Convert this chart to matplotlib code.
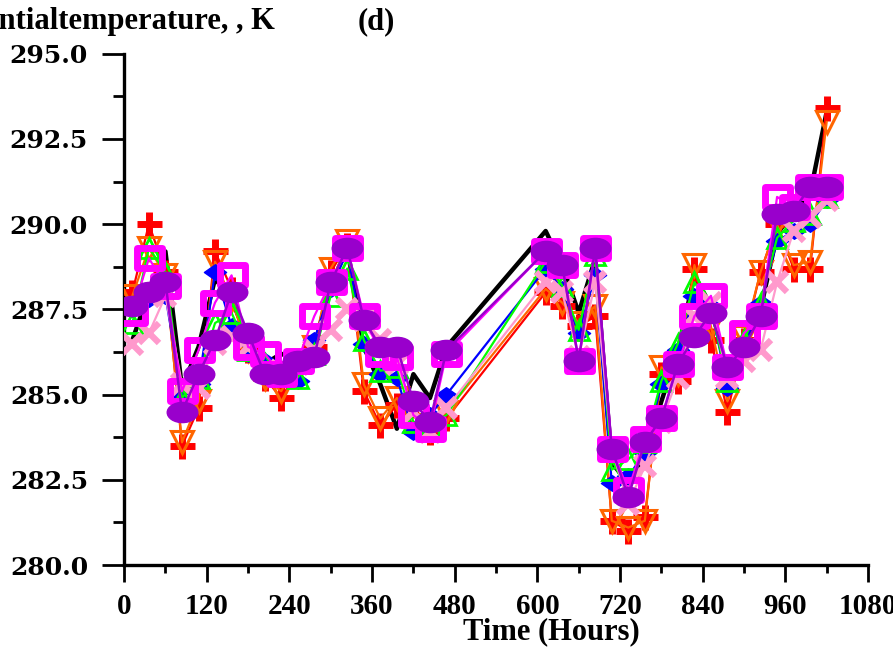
import numpy as np
import matplotlib
matplotlib.use("Agg")
import matplotlib.pyplot as plt
from matplotlib.path import Path
from matplotlib.ticker import MultipleLocator, FormatStrFormatter

# time axis (hours): two observed windows
t1 = [12, 36, 60, 84, 108, 132, 156, 180, 204, 228, 252, 276, 300, 324, 348, 372, 396, 420, 444, 468]
t2 = [612, 636, 660, 684, 708, 732, 756, 780, 804, 828, 852, 876, 900, 924, 948, 972, 996, 1020]
time = t1 + t2

black = [286.6, 288.0, 289.2, 285.2, 286.4, 288.4, 287.8, 286.6, 285.9, 286.2, 286.0, 286.4, 288.2, 289.3, 286.4, 285.3, 284.0, 285.6, 284.9, 286.4,
         289.8, 288.8, 287.4, 289.0, 283.0, 282.4, 283.2, 284.8, 286.3, 288.5, 287.6, 285.6, 286.5, 287.5, 289.7, 290.4, 290.9, 293.3]
red = [288.0, 290.0, 288.6, 283.5, 284.6, 289.2, 288.1, 286.3, 285.5, 284.9, 285.7, 286.4, 288.6, 289.4, 285.1, 284.1, 284.7, 284.7, 283.9, 284.3,
       288.0, 287.6, 287.0, 287.3, 281.3, 281.0, 281.4, 285.6, 285.4, 288.7, 286.6, 284.5, 286.6, 288.6, 290.0, 288.7, 288.7, 293.4]
orange = [287.9, 289.3, 288.5, 283.6, 284.8, 288.9, 287.8, 286.3, 285.5, 285.1, 285.9, 286.4, 288.7, 289.5, 285.3, 284.3, 284.9, 284.1, 284.0, 284.5,
          288.1, 287.7, 287.1, 287.6, 281.3, 281.1, 281.3, 285.8, 285.6, 288.8, 287.0, 284.8, 286.7, 288.6, 290.0, 288.8, 288.9, 293.0]
blue = [287.5, 287.8, 287.9, 285.0, 285.3, 288.6, 287.0, 286.2, 286.0, 285.5, 285.4, 286.6, 288.1, 289.2, 286.5, 285.6, 285.5, 283.9, 284.4, 285.0,
        288.7, 288.1, 286.8, 288.5, 282.4, 282.6, 283.3, 285.3, 286.3, 287.9, 287.6, 285.2, 286.4, 287.7, 289.5, 289.8, 290.0, 290.7]
green = [287.1, 289.3, 288.6, 284.9, 285.5, 287.1, 287.4, 286.3, 285.9, 285.6, 285.5, 286.2, 287.9, 288.7, 286.6, 285.7, 285.8, 284.2, 284.1, 284.4,
         288.9, 288.2, 286.9, 289.1, 282.8, 283.1, 283.6, 285.4, 286.5, 288.3, 287.5, 285.4, 286.6, 287.7, 289.6, 290.1, 290.3, 290.8]
pink = [286.5, 286.8, 287.9, 285.3, 285.2, 286.5, 286.7, 286.4, 285.7, 285.7, 285.9, 286.3, 286.9, 287.5, 287.2, 286.6, 285.9, 284.5, 283.9, 284.6,
        288.3, 288.0, 286.1, 288.3, 283.4, 281.8, 282.9, 284.2, 285.5, 287.3, 287.7, 285.5, 286.0, 286.3, 288.3, 289.8, 290.2, 290.7]
magenta = [287.4, 289.0, 288.2, 285.1, 286.3, 287.7, 288.5, 286.4, 286.2, 285.6, 286.0, 287.3, 288.3, 289.3, 287.3, 286.2, 286.1, 284.4, 284.0, 286.2,
           289.2, 288.8, 286.0, 289.3, 283.4, 282.2, 283.7, 284.3, 285.9, 287.3, 287.9, 285.8, 286.8, 287.3, 290.8, 290.5, 291.1, 291.1]
purple = [287.6, 288.0, 288.3, 284.5, 285.6, 286.6, 288.0, 286.8, 285.6, 285.6, 286.0, 286.1, 288.3, 289.3, 287.2, 286.4, 286.4, 284.8, 284.2, 286.3,
          289.2, 288.8, 286.0, 289.3, 283.4, 282.0, 283.6, 284.3, 285.9, 286.7, 287.4, 285.8, 286.4, 287.3, 290.3, 290.4, 291.1, 291.1]

# squashed marker shapes
circ = Path.unit_circle()
ellipse = Path(circ.vertices * [1.0, 0.66], circ.codes)
rect = Path([(-1, -0.8), (1, -0.8), (1, 0.8), (-1, 0.8), (-1, -0.8)],
            [Path.MOVETO, Path.LINETO, Path.LINETO, Path.LINETO, Path.CLOSEPOLY])
diamond = Path([(-1, 0), (0, 0.7), (1, 0), (0, -0.7), (-1, 0)],
               [Path.MOVETO, Path.LINETO, Path.LINETO, Path.LINETO, Path.CLOSEPOLY])

fig = plt.figure(figsize=(8.93, 6.48), dpi=100)
ax = fig.add_axes([0.139, 0.128, 0.833, 0.789])

ax.plot(time, black, color='black', lw=3.2, zorder=2)
ax.plot(time, red, color='#FF0000', lw=1.6, marker='+', ms=18, mew=5, zorder=3)
ax.plot(time, orange, color='#FF6600', lw=1.6, marker='v', ms=16, mfc='none', mew=2.2, zorder=4)
ax.plot(time, blue, color='#0000FF', lw=1.6, marker=diamond, ms=16, zorder=5)
ax.plot(time, green, color='#00FF00', lw=1.6, marker='^', ms=15, mfc='none', mew=2.0, zorder=6)
ax.plot(time, pink, color='#FF99CC', lw=1.6, marker='x', ms=15, mew=4.5, zorder=7)
ax.plot(time, magenta, color='#FF00FF', lw=1.6, marker=rect, ms=18, mfc='none', mew=5, zorder=8)
ax.plot(time, purple, color='#9900CC', lw=1.8, marker=ellipse, ms=22, zorder=9)

ax.set_xlim(0, 1080)
ax.set_ylim(280, 295)
ax.xaxis.set_major_locator(MultipleLocator(120))
ax.xaxis.set_minor_locator(MultipleLocator(60))
ax.yaxis.set_major_locator(MultipleLocator(2.5))
ax.yaxis.set_minor_locator(MultipleLocator(1.25))
ax.yaxis.set_major_formatter(FormatStrFormatter('%.1f'))

for s in ['top', 'right']:
    ax.spines[s].set_visible(False)
for s in ['left', 'bottom']:
    ax.spines[s].set_linewidth(2.4)

ax.tick_params(axis='y', which='major', direction='out', length=16, width=2, pad=10)
ax.tick_params(axis='y', which='minor', direction='out', length=8, width=2)
ax.tick_params(axis='x', which='major', direction='out', length=12, width=2, pad=8)
ax.tick_params(axis='x', which='minor', direction='out', length=6, width=2)

for lab in ax.get_yticklabels():
    lab.set_fontfamily('DejaVu Serif')
    lab.set_fontweight('bold')
    lab.set_fontsize(18)
for lab in ax.get_xticklabels():
    lab.set_fontfamily('Liberation Serif')
    lab.set_fontweight('bold')
    lab.set_fontsize(21)

fig.text(275 / 893, 1 - 22 / 648, 'Potentialtemperature, , K', ha='right', va='center',
         family='Liberation Serif', weight='bold', fontsize=22)
fig.text(358 / 893, 1 - 22 / 648, '(d)', ha='left', va='center',
         family='Liberation Serif', weight='bold', fontsize=22)
fig.text(551 / 893, 1 - 632 / 648, 'Time (Hours)', ha='center', va='center',
         family='Liberation Serif', weight='bold', fontsize=22)

fig.savefig('out.png', dpi=100)
